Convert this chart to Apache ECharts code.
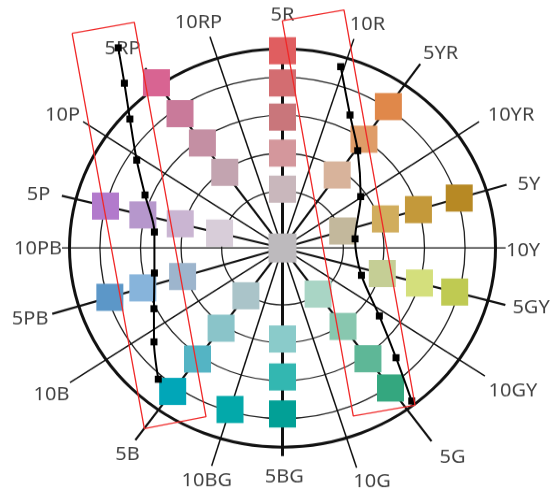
<!DOCTYPE html>
<html>
<head>
<meta charset="utf-8">
<script src="https://cdn.jsdelivr.net/npm/echarts@6/dist/echarts.min.js"></script>
<style>
  html, body { margin: 0; padding: 0; background: #ffffff; overflow: hidden; }
  #wrap { width: 550px; height: 492px; overflow: hidden; }
  /* the hue wheel is drawn slightly flattened: the polar grid is squeezed vertically */
  #chart { width: 550px; height: 526px; transform: scaleY(0.935); transform-origin: 0 0; }
</style>
</head>
<body>
<div id="wrap"><div id="chart"></div></div>
<script>
// Munsell hue names, clockwise from the top
const hueNames = ['5R','10R','5YR','10YR','5Y','10Y','5GY','10GY','5G','10G',
                  '5BG','10BG','5B','10B','5PB','10PB','5P','10P','5RP','10RP'];
// angular position of each hue line (degrees, clockwise from 5R)
const hueAngle = [0, 17.7, 35, 55.5, 73.2, 90, 105.3, 124.1, 144.2, 162.5,
                  180, 196.9, 215.6, 235.9, 253, 270, 284.2, 304.1, 324.5, 342.2];
// radial value where each hue line stops
const hueLineEnd = [10.4, 11.57, 11.84, 11.76, 11.54, 11.0, 11.39, 12.05, 12.56, 12.15,
                    10.97, 12.01, 12.46, 12.65, 11.87, 10.87, 11.22, 11.87, 11.65, 11.70];
const heavyHues = ['5YR','5Y','5GY','5G','5B','5PB','5P','5RP'];

// colour chips: hue, radial value, colour
const chipHue = ['5R','5R','5R','5R','5R', '5YR','5YR','5YR', '5Y','5Y','5Y','5Y',
                 '5GY','5GY','5GY', '5G','5G','5G','5G', '5BG','5BG','5BG', '10BG',
                 '5B','5B','5B','5B', '5PB','5PB','5PB', '5P','5P','5P','5P',
                 '5RP','5RP','5RP','5RP'];
const chipValue = [3.1, 5.0, 6.9, 8.7, 10.4, 4.7, 7.0, 9.1, 3.1, 5.3, 7.0, 9.1,
                   5.1, 7.0, 8.8, 3.0, 5.1, 7.2, 9.1, 4.8, 6.8, 8.75, 8.9,
                   3.1, 5.2, 7.2, 9.3, 5.15, 7.2, 8.9, 3.2, 5.2, 7.1, 9.0,
                   4.9, 6.8, 8.7, 10.7];
const chipColor = ['#C9B7BC','#D4979C','#C9767B','#D36D71','#E05E60',
                   '#D8B39B','#DF9C68','#E0884A',
                   '#C3B89C','#D1AD5D','#C4993A','#B78924',
                   '#C5CE95','#D4DF7C','#BFCA52',
                   '#A9D5C5','#88C7AF','#5EB797','#34A77F',
                   '#8ACBCA','#33B7B1','#02A096',
                   '#03A9AA',
                   '#AAC4C9','#8AC4C9','#54B4C4','#01A6B8',
                   '#9DB5CD','#87B4DB','#5C97C8',
                   '#D8CDD9','#CAB5D2','#B697CC','#B27ACC',
                   '#C3A4B0','#C48FA3','#C97A9A','#D86492'];
const neutralColor = '#BDBABD';

// boundary curves (radial value, angle)
const leftCurveValue = [13.3, 11.67, 10.14, 8.55, 7.33, 6.37, 6.45, 7.10, 8.04, 9.24];
const leftCurveAngle = [322.5, 318.1, 312.1, 302.8, 292.4, 277.6, 258.2, 243.2, 232.0, 221.5];
const rightCurveValue = [9.98, 7.76, 6.33, 4.71, 3.61, 4.15, 5.97, 8.05, 10.28];
const rightCurveAngle = [16.7, 25.4, 35.85, 54.9, 82.3, 110.3, 126.9, 135.95, 141.7];

// highlighted bands (corner radial values and angles)
const leftBandValue = [15.35, 13.96, 9.66, 11.71, 15.35];
const leftBandAngle = [317.5, 328.45, 202.98, 215.56, 317.5];
const rightBandValue = [11.98, 12.91, 10.56, 9.52, 11.98];
const rightBandAngle = [359.95, 13.58, 141.77, 158.5, 359.95];

// where each hue name sits
const labelValue = [12.26, 12.48, 12.88, 13.27, 12.61, 11.86, 12.65, 13.64, 13.87, 13.1,
                    12.07, 12.84, 13.32, 13.76, 13.0, 12.05, 12.35, 12.91, 13.13, 12.59];
const labelAngle = [0, 19.6, 37.25, 58.1, 74.5, 90.8, 104.4, 123.6, 142.8, 160.3,
                    179.6, 196.9, 215.0, 235.85, 253.15, 269.75, 283.1, 302.9, 323.1, 340.8];

const ink = '#111111';
const angleOf = h => hueAngle[hueNames.indexOf(h)];

// the wheel (rings + rim) and a wider frame sharing the same centre and scale,
// so marks that run past the rim are not cut off
const WHEEL_MAX = 10.5, FRAME_MAX = 16, WHEEL_R = 213;
const CENTER = [282.5, 265.2];
const FRAME = 1;

const series = [];

// hue lines from the centre
hueNames.forEach((h, i) => {
  let w = 1.5;
  if (h === '5R' || h === '5BG') w = 3;
  else if (heavyHues.includes(h)) w = 2.2;
  else if (h === '10Y' || h === '10PB') w = 1.3;
  series.push({
    type: 'line', coordinateSystem: 'polar', polarIndex: FRAME, silent: true,
    symbol: 'none', z: 1,
    lineStyle: { color: ink, width: w },
    data: [[0, hueAngle[i]], [hueLineEnd[i], hueAngle[i]]]
  });
});

// colour chips
const chipData = chipValue.map((v, i) => ({
  value: [v, angleOf(chipHue[i])],
  itemStyle: { color: chipColor[i], opacity: 1 }
}));
chipData.push({ value: [0, 0], symbolSize: [28, 31], itemStyle: { color: neutralColor, opacity: 1 } });
series.push({
  type: 'scatter', coordinateSystem: 'polar', polarIndex: FRAME, silent: true,
  symbol: 'rect', symbolSize: [27, 29], z: 3,
  itemStyle: { opacity: 1 },
  data: chipData
});

// hue names
series.push({
  type: 'scatter', coordinateSystem: 'polar', polarIndex: FRAME, silent: true,
  symbolSize: 1, z: 2,
  itemStyle: { color: 'rgba(0,0,0,0)' },
  label: {
    show: true, position: 'inside', formatter: '{b}',
    fontFamily: 'Noto Sans', fontSize: 20, color: ink
  },
  data: hueNames.map((h, i) => ({ name: h, value: [labelValue[i], labelAngle[i]] }))
});

// boundary curves with markers
[[leftCurveValue, leftCurveAngle], [rightCurveValue, rightCurveAngle]].forEach(([vals, angs]) => {
  series.push({
    type: 'line', coordinateSystem: 'polar', polarIndex: FRAME, silent: true,
    smooth: 0.3, z: 4,
    symbol: 'rect', symbolSize: [7, 7.5], showAllSymbol: true,
    itemStyle: { color: '#000', opacity: 1 },
    lineStyle: { color: '#000', width: 2 },
    data: vals.map((v, i) => [v, angs[i]])
  });
});

// red bands
[[leftBandValue, leftBandAngle], [rightBandValue, rightBandAngle]].forEach(([vals, angs]) => {
  series.push({
    type: 'line', coordinateSystem: 'polar', polarIndex: FRAME, silent: true,
    symbol: 'none', z: 5,
    lineStyle: { color: '#F02828', width: 1.3 },
    data: vals.map((v, i) => [v, angs[i]])
  });
});

const hidden = { show: false };
const chart = echarts.init(document.getElementById('chart'));
chart.setOption({
  animation: false,
  backgroundColor: '#ffffff',
  polar: [
    { center: CENTER, radius: WHEEL_R },
    { center: CENTER, radius: WHEEL_R * FRAME_MAX / WHEEL_MAX }
  ],
  angleAxis: [
    {
      polarIndex: 0, type: 'value', min: 0, max: 360, startAngle: 90, clockwise: true,
      axisLine: { show: true, lineStyle: { color: ink, width: 3 } },
      axisTick: hidden, axisLabel: hidden, splitLine: hidden
    },
    {
      polarIndex: 1, type: 'value', min: 0, max: 360, startAngle: 90, clockwise: true,
      axisLine: hidden, axisTick: hidden, axisLabel: hidden, splitLine: hidden
    }
  ],
  radiusAxis: [
    {
      polarIndex: 0, type: 'value', min: 0, max: WHEEL_MAX, interval: 1,
      axisLine: hidden, axisTick: hidden, axisLabel: hidden,
      splitLine: {
        show: true,
        lineStyle: {
          width: 1.3,
          color: ['rgba(0,0,0,0)', 'rgba(0,0,0,0)', 'rgba(0,0,0,0)', '#222',
                  'rgba(0,0,0,0)', '#222', 'rgba(0,0,0,0)', '#222',
                  'rgba(0,0,0,0)', '#222', 'rgba(0,0,0,0)', 'rgba(0,0,0,0)']
        }
      }
    },
    {
      polarIndex: 1, type: 'value', min: 0, max: FRAME_MAX, interval: 1,
      axisLine: hidden, axisTick: hidden, axisLabel: hidden, splitLine: hidden
    }
  ],
  series: series
});
</script>
</body>
</html>
